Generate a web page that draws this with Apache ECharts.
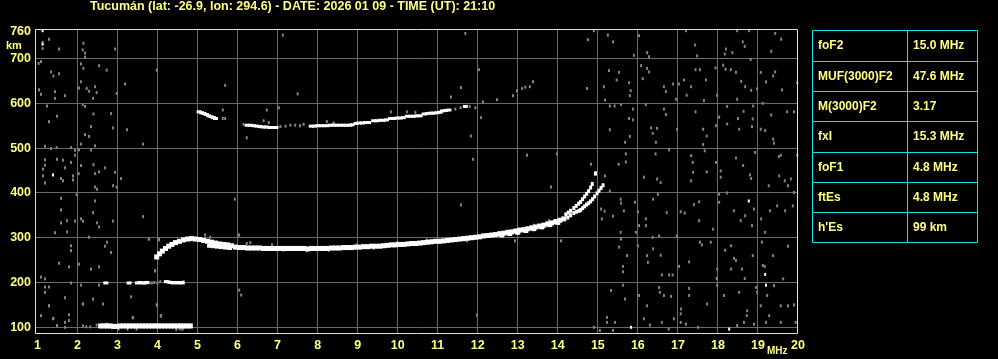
<!DOCTYPE html>
<html><head><meta charset="utf-8">
<script src="https://cdn.jsdelivr.net/npm/echarts@6/dist/echarts.min.js"></script>
<style>html,body{margin:0;padding:0;background:#000;}#c{width:998px;height:359px;}</style>
</head><body><div id="c"></div>
<script>
const titleText = 'Tucumán (lat: -26.9, lon: 294.6) - DATE: 2026 01 09 - TIME (UT): 21:10';
const xTickLabels = [1,2,3,4,5,6,7,8,9,10,11,12,13,14,15,16,17,18,19,20];
const xGridValues = [2,3,4,5,6,7,8,9,10,11,12,13,14,15,16,17,18,19];
const yGridValues = [100,200,300,400,500,600,700];
const yTickLabels = [100,200,300,400,500,600,700,760];
const xAxisUnit = 'MHz';
const yAxisUnit = 'km';

const paramNames = ['foF2','MUF(3000)F2','M(3000)F2','fxI','foF1','ftEs',"h'Es"];
const paramValues = ['15.0 MHz','47.6 MHz','3.17','15.3 MHz','4.8 MHz','4.8 MHz','99 km'];

// sporadic E echo (~100 km)
const esTrace = [[2.58,103],[2.66,103],[2.74,103],[2.82,103],[2.90,102],[2.98,102],[3.06,103],[3.14,103],[3.22,103],[3.30,103],[3.38,103],[3.46,103],[3.54,103],[3.62,103],[3.70,103],[3.78,103],[3.86,103],[3.94,103],[4.02,103],[4.10,103],[4.18,103],[4.26,103],[4.34,103],[4.42,103],[4.50,103],[4.58,103],[4.66,103],[4.74,103],[4.82,103]];
// second hop of Es (~200 km)
const esSecondHop = [[2.71,199],[3.29,199],[3.50,199],[3.56,200],[3.62,199],[3.68,199],[3.73,200],[4.22,202],[4.28,201],[4.34,200],[4.40,199],[4.46,200],[4.52,199],[4.58,200],[4.62,199]];
// F trace (common part, O+X overlapping)
const fTrace = [[3.98,257],[4.05,264],[4.12,270],[4.20,276],[4.28,281],[4.36,285],[4.45,289],[4.55,292],[4.65,295],[4.75,297],[4.85,298],[4.95,297],[5.05,296],[5.15,294],[5.25,292],[5.35,290],[5.45,288],[5.55,286],[5.65,285],[5.75,284],[5.85,282],[5.95,279],[6.05,278],[6.15,278],[6.25,277],[6.35,277],[6.45,277],[6.55,277],[6.65,276],[6.75,276],[6.85,276],[6.95,276],[7.05,276],[7.15,276],[7.25,276],[7.35,276],[7.45,276],[7.55,276],[7.65,276],[7.75,275],[7.85,276],[7.95,276],[8.05,276],[8.15,276],[8.25,276],[8.35,277],[8.45,277],[8.55,277],[8.65,278],[8.75,278],[8.85,278],[8.95,279],[9.05,279],[9.15,280],[9.25,280],[9.35,281],[9.45,281],[9.55,281],[9.65,282],[9.75,283],[9.85,284],[9.95,284],[10.05,285],[10.15,285],[10.25,286],[10.35,287],[10.45,287],[10.55,288],[10.65,289],[10.75,290],[10.85,291],[10.95,292],[11.05,292],[11.15,293],[11.25,294],[11.35,295],[11.45,296],[11.55,297],[11.65,298],[11.75,299],[11.85,300],[11.95,301],[12.05,302],[12.15,304],[12.25,305],[12.35,306],[12.45,307],[12.55,309],[12.65,310],[12.75,312],[12.85,313],[12.95,315],[13.05,317],[13.15,318],[13.25,320],[13.35,322],[13.45,324],[13.55,326],[13.65,328],[13.75,331],[13.85,333],[13.95,336],[14.05,339],[14.15,342]];
// lower/inner edge where the trace is broadened
const fTraceEdge = [[5.30,282],[5.40,281],[5.50,280],[5.60,279],[5.70,278],[5.80,277],[12.60,305],[12.80,308],[13.00,311],[13.20,315],[13.40,319],[13.60,323],[13.80,328],[14.00,333]];
// ordinary and extraordinary branches near the critical frequency
const fTraceO = [[14.20,352],[14.26,356],[14.32,360],[14.40,366],[14.46,371],[14.52,376],[14.57,380],[14.62,386],[14.67,392],[14.72,398],[14.77,404],[14.82,412],[14.86,420],[14.94,443]];
const fTraceX = [[14.25,345],[14.32,350],[14.40,355],[14.47,358],[14.53,360],[14.57,362],[14.62,366],[14.67,370],[14.72,374],[14.77,377],[14.82,381],[14.87,386],[14.92,392],[14.98,399],[15.03,405],[15.08,411],[15.13,417]];
// F second hop (~550-590 km)
const f2SecondHop = [[5.04,581],[5.10,579],[5.16,577],[5.22,575],[5.28,572],[5.34,570],[5.40,568],[5.45,566],[6.24,551],[6.32,551],[6.40,550],[6.48,549],[6.56,548],[6.64,547],[6.72,547],[6.80,546],[6.88,546],[6.96,546],[7.84,549],[7.92,549],[8.00,550],[8.08,550],[8.16,550],[8.24,550],[8.32,551],[8.40,551],[8.48,551],[8.56,551],[8.64,551],[8.72,551],[8.80,551],[8.86,552],[8.96,555],[9.04,556],[9.12,556],[9.20,557],[9.27,557],[9.40,561],[9.48,561],[9.56,562],[9.64,562],[9.72,563],[9.82,566],[9.90,566],[9.98,567],[10.06,567],[10.14,568],[10.24,571],[10.32,571],[10.40,571],[10.48,572],[10.56,572],[10.66,576],[10.74,577],[10.82,578],[10.90,578],[10.98,579],[11.06,580],[11.12,583],[11.20,584],[11.28,585],[11.69,593]];
// bright isolated dots
const noiseWhite = [[1.13,762],[1.13,732],[1.39,440],[18.77,382],[19.18,218],[19.20,194],[15.83,100],[18.28,96],[14.94,445]];
// grey noise / weak echoes
const noiseGrey = [
[1.13,736],[1.29,743],[1.13,722],[1.54,721],[2.15,734],[2.13,719],[2.19,712],[2.19,703],[2.94,721],[1.09,693],[1.03,689],[2.09,688],[2.15,678],[2.54,684],[2.73,674],[1.34,670],[1.54,666],[1.40,661],[3.98,674],[2.09,648],[3.19,643],[2.23,633],[2.44,637],[2.29,627],[2.48,624],[1.04,630],[1.09,620],[1.44,626],[1.69,617],[1.44,611],[2.04,634],[2.39,611],[2.98,622],[2.13,597],[2.19,593],[1.24,594],[1.49,571],[1.29,559],[2.40,576],[2.84,577],[2.89,545],[3.24,541],[2.34,548],[2.19,530],[2.29,526],[3.64,509],[2.09,509],[2.44,505],[1.19,504],[1.34,499],[1.48,501],[1.84,501],[1.94,495],[2.04,496],[1.94,484],[2.34,496],[1.19,474],[1.19,462],[1.49,475],[1.64,473],[1.84,468],[1.69,456],[2.09,461],[2.40,463],[2.69,456],[2.94,446],[2.54,447],[2.44,443],[1.14,453],[1.14,438],[1.59,432],[1.64,427],[1.89,438],[1.89,429],[2.03,443],[3.09,432],[1.19,422],[2.89,416],[2.44,413],[2.49,408],[2.98,413],[1.98,396],[1.59,388],[1.59,362],[2.44,382],[2.39,356],[1.74,338],[1.94,337],[2.09,342],[2.14,337],[2.49,333],[2.54,324],[2.89,337],[1.44,311],[1.74,313],[1.59,333],[2.29,301],[3.64,347],[1.84,282],[1.84,271],[2.74,290],[2.69,281],[2.84,267],[3.79,297],[4.04,296],[1.54,243],[1.79,235],[2.04,241],[2.34,230],[2.54,235],[3.94,226],[1.09,212],[1.19,208],[2.09,194],[2.54,194],[1.84,199],[1.19,190],[1.29,190],[1.19,178],[1.69,166],[2.39,163],[3.34,168],[1.29,148],[2.14,152],[2.64,152],[3.99,150],[1.79,128],[1.79,115],[1.69,111],[1.09,126],[1.39,119],[3.39,121],[4.09,126],[1.69,100],[1.49,104],
[14.75,742],[14.90,762],[15.25,752],[15.38,737],[16.03,751],[16.23,713],[15.90,707],[16.28,704],[17.20,762],[17.43,730],[17.48,706],[18.17,710],[18.20,721],[18.36,713],[18.48,762],[18.62,737],[18.67,727],[18.78,762],[18.82,698],[19.43,756],[19.58,743],[19.33,716],
[14.73,633],[15.15,637],[15.28,673],[15.47,652],[15.53,669],[15.78,646],[15.80,617],[15.82,628],[16.08,684],[16.12,655],[16.23,678],[16.28,670],[16.65,637],[16.70,626],[16.88,643],[17.03,643],[16.95,609],[17.15,652],[17.22,618],[17.44,675],[17.55,675],[17.70,652],[17.94,679],[17.98,618],[18.13,685],[18.19,676],[18.32,675],[18.45,669],[18.58,649],[18.68,637],[18.83,629],[18.98,632],[19.07,669],[19.20,648],[19.38,661],[19.43,670],[19.60,630],[19.98,646],[17.33,637],[17.65,606],[15.18,607],[15.30,594],
[15.42,594],[15.58,597],[15.88,587],[15.78,566],[15.88,563],[15.30,541],[15.80,526],[15.68,513],[16.20,597],[16.33,545],[16.48,544],[16.37,533],[16.45,513],[16.65,587],[16.70,575],[16.98,542],[17.44,581],[17.63,542],[17.72,527],[17.63,508],[17.95,550],[18.03,569],[18.23,593],[18.23,554],[18.50,566],[18.64,582],[18.87,565],[18.88,594],[18.85,548],[19.07,542],[19.12,600],[19.18,539],[19.33,574],[19.38,520],[19.40,511],[19.73,581],[19.90,581],[18.48,609],[18.53,542],
[15.70,487],[15.70,469],[15.52,464],[14.83,464],[15.18,438],[16.44,487],[16.15,435],[16.48,431],[16.57,423],[16.78,496],[17.33,483],[17.37,468],[17.38,446],[17.33,427],[17.67,494],[17.72,447],[17.95,468],[18.07,449],[18.07,435],[18.45,478],[18.63,461],[18.80,440],[18.83,432],[18.93,490],[19.52,481],[19.57,484],[19.67,427],[19.75,416],[19.82,431],[19.53,438],[19.98,484],[19.27,416],
[15.30,404],[15.57,386],[15.58,377],[15.08,364],[15.17,359],[15.10,342],[15.38,348],[15.65,360],[15.93,379],[16.00,358],[16.03,327],[15.95,312],[16.20,342],[16.20,327],[16.38,386],[16.50,397],[16.72,356],[17.07,358],[17.17,355],[17.40,374],[17.53,380],[17.53,338],[17.88,319],[18.03,397],[18.03,379],[18.23,400],[18.40,360],[18.57,338],[18.68,349],[18.90,364],[18.85,327],[19.08,342],[19.18,312],[19.30,360],[19.48,371],[19.68,360],[19.87,371],[19.90,401],[16.97,304],[16.53,304],[16.37,301],[15.57,312],
[15.58,297],[15.53,279],[15.73,260],[15.63,236],[15.63,224],[16.00,282],[16.23,260],[16.25,245],[16.38,275],[16.57,261],[16.60,217],[16.78,217],[16.87,217],[17.03,236],[17.28,246],[17.55,290],[17.60,284],[17.82,290],[17.98,230],[18.18,272],[18.33,282],[18.40,254],[18.45,249],[18.33,230],[18.60,230],[18.87,260],[19.10,290],[19.12,238],[19.17,236],[19.38,260],[19.63,208],[19.75,281],[18.67,209],[17.97,209],
[15.33,182],[15.63,194],[15.68,163],[16.03,171],[16.23,148],[16.53,189],[16.55,178],[16.65,171],[16.83,169],[17.08,141],[17.07,130],[17.28,187],[17.28,171],[17.73,152],[17.98,194],[18.15,171],[18.53,178],[18.73,137],[18.72,126],[18.95,189],[18.98,178],[19.07,148],[19.23,171],[19.28,126],[19.40,193],[19.57,148],[19.75,148],[19.90,150],[15.23,122],[15.23,111],[15.43,111],[16.15,119],[16.30,105],[16.60,111],[16.77,96],[17.07,111],[17.20,107],[17.50,100],[18.48,104],[18.65,111],[18.90,107],[19.20,111],[19.57,111],[19.94,111],[14.90,100],[15.05,93],[15.38,93],[16.90,119],
[7.13,752],[11.69,756],[12.03,675],[11.58,635],[11.33,614],[7.50,621],[5.69,640],[6.73,585],[7.03,590],[5.63,585],[6.23,523],[11.83,527],[12.08,568],[12.13,603],[12.48,608],[12.88,617],[13.23,484],[11.88,475],[13.98,487],[13.83,413],[5.93,386],[11.58,373],
[12.98,628],[13.11,633],[13.19,636],[13.30,637],[13.38,648],[5.63,566],[5.69,566],[6.15,553],[6.65,561],[6.78,557],[7.07,548],[7.20,549],[7.32,551],[7.44,551],[7.56,550],[7.65,553],[8.23,559],[8.40,556],[9.83,581],[10.23,581],[10.44,580],[11.44,587],[11.57,590],[11.80,593],[11.94,590],
[14.08,293],[12.93,293],[4.03,295],[5.19,306],[5.32,301],[6.03,306],[6.23,287],[6.32,289],[6.73,274],[6.86,284],[7.15,272],[7.73,271],[8.28,272],[8.98,284],[9.40,276],[9.98,289],[10.73,295],[11.32,295],[11.73,293],[12.32,304],[13.40,328],[13.78,338],
[6.04,306],[6.04,183],[6.09,172],[3.98,150],[4.08,125],[3.94,226],[3.78,297],[4.65,202],[4.57,105],[4.47,95],[11.98,127],[2.13,152],[3.38,122],[1.29,148],[1.40,120],
[3.03,96],[3.25,96],[3.48,96],[3.73,105],[3.98,105],[4.57,96],[4.63,96],[2.22,101],[2.32,101],[2.48,105],[2.73,107],[2.14,103],
[3.80,199],[3.86,199],[3.92,200],[4.00,199],[4.07,202]
];

const textColor = '#ffff80';
const gridColor = '#6a6a6a';
const frameColor = '#ffff00';
const tableColor = '#10e4e4';
const fontFam = '"Liberation Sans", Arial, sans-serif';
const chart = echarts.init(document.getElementById('c'), null, {renderer: 'canvas'});

const pt = (data, color, size, z) => ({type: 'scatter', data: data, symbol: 'rect', symbolSize: size, itemStyle: {color: color, opacity: 1}, silent: true, z: z, animation: false});

const gridL = 35, gridT = 29, gridW = 763, gridH = 304;
const xMin = 0.94, xMax = 20, yMin = 87.3, yMax = 765.8;

chart.setOption({
  backgroundColor: '#000',
  animation: false,
  title: {text: titleText, left: 90, top: 0, padding: 0, textStyle: {color: textColor, fontSize: 12.5, fontWeight: 'bold', fontFamily: fontFam}},
  grid: {left: gridL, top: gridT, width: gridW, height: gridH, show: false, outerBoundsMode: 'none', containLabel: false},
  xAxis: {type: 'value', min: xMin, max: xMax, axisLine: {show: false}, axisTick: {show: false}, splitLine: {show: false},
    axisLabel: {customValues: xTickLabels, color: textColor, fontSize: 12.5, fontWeight: 'bold', fontFamily: fontFam, margin: 6}},
  yAxis: {type: 'value', min: yMin, max: yMax, axisLine: {show: false}, axisTick: {show: false}, splitLine: {show: false},
    axisLabel: {customValues: yTickLabels, color: textColor, fontSize: 12.5, fontWeight: 'bold', fontFamily: fontFam, margin: 4}},
  series: [
    pt(noiseGrey, '#848484', [2, 3], 2),
    pt(noiseWhite, '#ffffff', [2, 3], 3),
    pt(esTrace, '#ffffff', [5, 5], 3),
    pt(esSecondHop, '#ffffff', [5, 3], 3),
    pt(fTrace, '#ffffff', [5, 5], 3),
    pt(fTraceEdge, '#ffffff', [5, 4], 3),
    pt(fTraceO, '#ffffff', [3, 4], 3),
    pt(fTraceX, '#ffffff', [3, 4], 3),
    pt(f2SecondHop, '#ffffff', [5, 3], 3)
  ]
});

// grid lines, frame and table drawn as graphics; grid line positions come from the axes' scales
const crisp = v => Math.round(v - 0.5) + 0.5;
const els = [];
const yTop = chart.convertToPixel({yAxisIndex: 0}, yMax);
const yBot = chart.convertToPixel({yAxisIndex: 0}, yMin);
const xLeft = chart.convertToPixel({xAxisIndex: 0}, xMin);
const xRight = chart.convertToPixel({xAxisIndex: 0}, xMax);
xGridValues.forEach(v => {
  const x = crisp(chart.convertToPixel({xAxisIndex: 0}, v));
  els.push({type: 'line', z: 0, silent: true, shape: {x1: x, y1: yTop, x2: x, y2: yBot}, style: {stroke: gridColor, lineWidth: 1}});
});
yGridValues.forEach(v => {
  const y = crisp(chart.convertToPixel({yAxisIndex: 0}, v));
  els.push({type: 'line', z: 0, silent: true, shape: {x1: xLeft, y1: y, x2: xRight, y2: y}, style: {stroke: gridColor, lineWidth: 1}});
});
els.push({type: 'rect', z: 10, silent: true, shape: {x: crisp(xLeft), y: crisp(yTop), width: Math.round(xRight - xLeft) - 1, height: Math.round(yBot - yTop)}, style: {fill: 'none', stroke: frameColor, lineWidth: 1}});

const tL = 812.5, tT = 30.5, tW = 165, rowH = 30.3, colX = 907.5;
const tH = rowH * paramNames.length;
els.push({type: 'rect', shape: {x: tL, y: tT, width: tW, height: Math.round(tH)}, style: {fill: 'none', stroke: tableColor, lineWidth: 1}});
els.push({type: 'line', shape: {x1: colX, y1: tT, x2: colX, y2: tT + Math.round(tH)}, style: {stroke: tableColor, lineWidth: 1}});
paramNames.forEach((n, i) => {
  const y0 = tT + rowH * i;
  if (i > 0) els.push({type: 'line', shape: {x1: tL, y1: Math.round(y0) + 0.5, x2: tL + tW, y2: Math.round(y0) + 0.5}, style: {stroke: tableColor, lineWidth: 1}});
  els.push({type: 'text', x: tL + 5.5, y: y0 + rowH / 2 + 0.5, style: {text: n, fill: textColor, font: 'bold 12px ' + fontFam, verticalAlign: 'middle', align: 'left'}});
  els.push({type: 'text', x: colX + 5.5, y: y0 + rowH / 2 + 0.5, style: {text: paramValues[i], fill: textColor, font: 'bold 12px ' + fontFam, verticalAlign: 'middle', align: 'left'}});
});
els.push({type: 'text', x: 6, y: 45.5, style: {text: yAxisUnit, fill: textColor, font: 'bold 11px ' + fontFam, verticalAlign: 'middle', align: 'left'}});
els.push({type: 'text', x: 767, y: 351.5, style: {text: xAxisUnit, fill: textColor, font: 'bold 10px ' + fontFam, verticalAlign: 'middle', align: 'left'}});
chart.setOption({graphic: els});
</script>
</body></html>
